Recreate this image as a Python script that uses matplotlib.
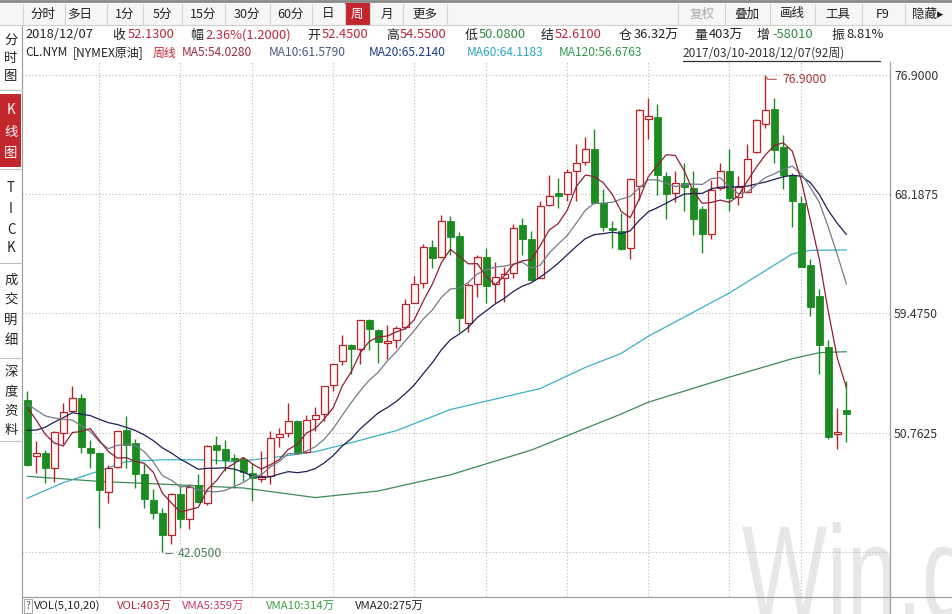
import matplotlib
matplotlib.use('Agg')
import matplotlib.pyplot as plt
import numpy as np
import pandas as pd
from matplotlib.textpath import TextPath
from matplotlib.patches import PathPatch
from matplotlib.font_manager import FontProperties
from matplotlib.transforms import Affine2D

plt.rcParams['font.family'] = ['Noto Sans CJK SC', 'DejaVu Sans']

# weekly CL.NYM candles, 2017/03/10 .. 2018/12/07 (92 weeks)
opens = [53.16, 49.07, 49.29, 48.17, 50.74, 52.32, 53.31, 49.64, 49.24, 46.41,
         48.26, 50.96, 50.03, 47.73, 45.82, 44.89, 43.25, 46.26, 44.45, 46.92,
         45.64, 49.88, 49.56, 48.90, 48.87, 47.85, 47.38, 47.58, 50.41, 50.71,
         51.64, 49.37, 51.74, 52.13, 54.26, 55.99, 57.15, 56.91, 58.98, 58.30,
         57.32, 57.51, 58.45, 60.25, 61.68, 64.32, 63.59, 66.20, 65.15, 58.78,
         61.63, 63.59, 61.60, 62.04, 62.41, 65.96, 64.93, 62.09, 67.38, 68.26,
         68.21, 69.87, 70.56, 71.52, 67.52, 65.72, 65.54, 64.29, 68.82, 73.72,
         73.87, 69.56, 68.29, 69.02, 68.65, 67.11, 65.30, 68.65, 69.92, 67.96,
         68.33, 71.27, 73.35, 74.40, 71.66, 69.58, 67.55, 63.02, 60.75, 57.02,
         50.66, 52.45]
highs = [53.79, 50.12, 49.49, 50.91, 52.94, 54.14, 53.60, 50.22, 49.34, 48.39,
         50.91, 52.01, 50.30, 48.46, 46.63, 45.28, 46.38, 46.87, 46.99, 47.73,
         49.83, 50.49, 50.25, 49.20, 49.00, 48.58, 49.44, 50.91, 51.08, 52.91,
         51.69, 52.06, 52.62, 54.21, 55.80, 57.93, 57.27, 59.03, 59.05, 58.37,
         58.62, 58.54, 60.55, 62.21, 64.56, 64.86, 66.69, 66.57, 65.42, 61.70,
         63.76, 64.25, 63.26, 62.90, 66.01, 66.49, 65.47, 67.67, 69.58, 69.39,
         70.00, 71.88, 72.40, 72.93, 68.60, 66.25, 66.84, 69.39, 74.45, 75.26,
         74.77, 69.80, 69.87, 70.44, 69.87, 67.30, 69.26, 70.49, 71.52, 69.50,
         71.83, 73.72, 76.90, 75.26, 72.49, 69.75, 68.04, 63.44, 61.24, 57.51,
         52.57, 54.55]
lows = [48.34, 47.80, 47.11, 47.16, 49.93, 52.25, 49.27, 48.21, 43.81, 45.60,
        48.21, 48.21, 46.74, 45.28, 44.42, 42.05, 42.63, 43.81, 43.69, 45.64,
        45.47, 48.46, 47.97, 46.74, 47.24, 45.77, 47.18, 47.04, 49.68, 50.41,
        49.20, 49.27, 50.91, 51.64, 53.79, 55.73, 55.07, 55.80, 56.78, 55.88,
        56.17, 56.98, 58.37, 60.21, 61.31, 62.82, 63.51, 63.76, 58.12, 58.12,
        60.69, 60.21, 60.21, 60.33, 62.04, 63.76, 61.85, 62.04, 67.30, 67.18,
        67.67, 67.67, 70.31, 67.48, 65.52, 64.29, 64.12, 63.44, 67.79, 72.25,
        68.16, 66.40, 67.60, 66.93, 65.22, 63.92, 64.91, 68.53, 66.93, 67.43,
        68.29, 71.22, 73.06, 70.49, 68.58, 65.83, 62.90, 59.28, 55.07, 50.30,
        49.56, 50.08]
closes = [48.41, 49.27, 48.21, 50.81, 52.25, 53.31, 49.68, 49.24, 46.55, 48.17,
          50.86, 49.88, 47.77, 45.94, 44.91, 43.25, 46.30, 44.42, 46.82, 45.69,
          49.78, 49.51, 48.78, 48.76, 47.92, 47.43, 47.60, 50.37, 50.66, 51.64,
          49.27, 51.69, 52.06, 54.21, 55.75, 57.15, 56.91, 58.98, 58.37, 57.42,
          57.44, 58.42, 60.16, 61.63, 64.32, 63.51, 66.25, 65.10, 59.11, 61.55,
          63.59, 61.50, 62.12, 62.36, 65.72, 64.93, 61.92, 67.30, 68.04, 68.07,
          69.83, 70.49, 71.52, 67.55, 65.76, 65.59, 64.20, 69.31, 74.35, 73.91,
          69.63, 68.21, 69.02, 68.73, 66.38, 65.30, 68.53, 69.87, 67.92, 68.70,
          70.73, 73.59, 74.33, 71.46, 69.63, 67.67, 62.90, 59.92, 57.15, 50.41,
          50.78, 52.13]
# closes of the 19 weeks before the window (needed for MA5/10/20 at the left edge)
prior_closes = [48.70, 44.07, 43.41, 45.69, 46.06, 51.68, 51.50, 51.90, 53.02, 53.72,
                53.99, 52.37, 52.42, 53.17, 53.83, 53.86, 53.40, 53.99, 53.33]

# long averages
ma60_idx = [0, 4, 8, 11, 15, 20, 23, 28, 32, 36, 41, 47, 57, 62, 66, 69, 78, 85, 87, 91]
ma60_val = [45.97, 47.11, 47.97, 48.65, 48.78, 48.78, 48.63, 49.00, 49.37, 50.03,
            50.91, 52.45, 53.99, 55.53, 56.56, 57.81, 60.97, 63.83, 64.09, 64.12]
ma120_idx = [0, 8, 17, 24, 32, 39, 47, 56, 66, 69, 78, 85, 88, 91]
ma120_val = [47.57, 47.20, 46.94, 46.72, 46.02, 46.50, 47.68, 49.49, 52.13, 52.99,
             54.82, 56.17, 56.61, 56.68]

ytick_vals = [42.05, 50.7625, 59.475, 68.1875, 76.9]
vgrid_idx = [8, 17, 25, 34, 43, 51, 60, 69, 78, 86]

W, H = 952, 614
RED = '#b8283c'
GRN = '#2e8b3e'
UP = '#b8232a'
DN = '#1c8c22'


def fx(x):
    return x / W


def fy(y):
    return 1 - y / H


def main():
    fig = plt.figure(figsize=(W / 100, H / 100), dpi=100)
    fig.patch.set_facecolor('white')

    # watermark (tall, narrow letters)
    tp = TextPath((0, 0), 'Win.d', size=100, prop=FontProperties(family='Liberation Sans'))
    wm = PathPatch(tp, facecolor='#e7e7e7', edgecolor='none', zorder=-5,
                   transform=Affine2D().scale(0.9, 1.31).translate(742, -3))
    fig.add_artist(wm)

    ax = fig.add_axes([fx(22), fy(597), fx(890 - 22), (597 - 61) / H])
    ax.patch.set_alpha(0)
    ax.set_xlim(-0.589, 95.856)
    ax.set_ylim(38.75, 77.93)

    idx = np.arange(len(closes))
    o = np.array(opens); c = np.array(closes)
    h = np.array(highs); l = np.array(lows)
    up = c >= o

    for v in ytick_vals:
        ax.axhline(v, color='#b8b8b8', lw=0.8, ls=(0, (1, 2)), zorder=0)
    for v in vgrid_idx:
        ax.axvline(v, color='#b8b8b8', lw=0.8, ls=(0, (1, 2)), zorder=0)

    # moving averages
    allc = pd.Series(prior_closes + closes)
    n0 = len(prior_closes)
    ma5 = allc.rolling(5).mean().values[n0:]
    ma10 = allc.rolling(10).mean().values[n0:]
    ma20 = allc.rolling(20).mean().values[n0:]
    ax.plot(ma120_idx, ma120_val, color='#3d8a55', lw=0.9, zorder=1)
    ax.plot(ma60_idx, ma60_val, color='#3bb0c4', lw=0.9, zorder=1)
    ax.plot(idx, ma20, color='#1b1f55', lw=0.9, zorder=4)
    ax.plot(idx, ma10, color='#747a8a', lw=0.9, zorder=4)
    ax.plot(idx, ma5, color='#8e2033', lw=0.9, zorder=4)

    # candles
    wcol = np.where(up, UP, DN)
    ax.vlines(idx, l, h, colors=wcol, lw=1.0, zorder=2)
    body_lo = np.minimum(o, c)
    body_h = np.maximum(np.abs(c - o), 0.12)
    ax.bar(idx[up], body_h[up], bottom=body_lo[up], width=0.74,
           facecolor='#fff6f6', edgecolor=UP, lw=0.9, zorder=3)
    ax.bar(idx[~up], body_h[~up], bottom=body_lo[~up], width=0.74,
           facecolor=DN, edgecolor=DN, lw=0.6, zorder=3)

    ih = int(np.argmax(h)); il = int(np.argmin(l))
    ax.annotate('%.4f' % h[ih], xy=(ih, h[ih]), xytext=(12, -3), textcoords='offset points',
                fontsize=8.8, color='#a83a3a', va='center', ha='left',
                arrowprops=dict(arrowstyle='-', color='#a83a3a', lw=0.7,
                                connectionstyle='angle,angleA=0,angleB=-60,rad=0'))
    ax.annotate('%.4f' % l[il], xy=(il, l[il]), xytext=(11, -1), textcoords='offset points',
                fontsize=8.8, color='#4a7f5c', va='center', ha='left',
                arrowprops=dict(arrowstyle='-', color='#4a7f5c', lw=0.7,
                                connectionstyle='angle,angleA=0,angleB=60,rad=0'))

    ax.set_xticks([])
    ax.yaxis.tick_right()
    ax.set_yticks(ytick_vals[1:])
    ax.set_yticklabels(['%.4f' % v for v in ytick_vals[1:]])
    ax.tick_params(axis='y', length=0, pad=3, labelsize=8.8, labelcolor='#333333')
    for s in ax.spines.values():
        s.set_visible(False)

    # frame lines
    ln = dict(color='#a0a0a0', lw=0.9, transform=fig.transFigure)
    fig.add_artist(plt.Line2D([fx(22), fx(22)], [fy(26), fy(614)], **ln))
    fig.add_artist(plt.Line2D([fx(890), fx(890)], [fy(62), fy(614)], **ln))
    fig.add_artist(plt.Line2D([fx(22), fx(952)], [fy(597), fy(597)], **ln))

    # toolbar
    fig.add_artist(plt.Rectangle((0, fy(25)), 1, 25 / H, transform=fig.transFigure,
                                 facecolor='#f6f6f6', edgecolor='none', zorder=0))
    fig.add_artist(plt.Line2D([0, 1], [fy(1), fy(1)], color='#8a8a8a', lw=2, transform=fig.transFigure))
    fig.add_artist(plt.Line2D([0, 1], [fy(25), fy(25)], color='#d0d0d0', lw=0.8, transform=fig.transFigure))
    fig.add_artist(plt.Rectangle((fx(345), fy(25)), fx(25), 22 / H, transform=fig.transFigure,
                                 facecolor='#c1272d', edgecolor='none', zorder=1))
    left_btns = [('分时', 43), ('多日', 80), ('1分', 125), ('5分', 162), ('15分', 203),
                 ('30分', 247), ('60分', 290), ('日', 328), ('周', 357), ('月', 387), ('更多', 425)]
    right_btns = [('复权', 702), ('叠加', 747), ('画线', 792), ('工具', 838), ('F9', 883), ('隐藏▸', 928)]
    for xs in [23, 65, 107, 143, 182, 225, 270, 312, 345, 370, 403, 447,
               678, 725, 770, 815, 862, 905]:
        fig.add_artist(plt.Line2D([fx(xs), fx(xs)], [fy(4), fy(25)], color='#d2d2d2', lw=0.8,
                                  transform=fig.transFigure))
    for s, x in left_btns + right_btns:
        col = '#222222'
        if s == '周':
            col = 'white'
        if s == '复权':
            col = '#aaaaaa'
        fig.text(fx(x), fy(14), s, fontsize=9, color=col, ha='center', va='center',
                 family=['Noto Sans CJK SC', 'DejaVu Sans'], zorder=5)

    # quote line
    info = [(25, '2018/12/07', '#222222'), (112, '收', '#222222'), (128, '52.1300', RED),
            (190, '幅', '#222222'), (205, '2.36%(1.2000)', RED), (307, '开', '#222222'),
            (322, '52.4500', RED), (386, '高', '#222222'), (400, '54.5500', RED),
            (465, '低', '#222222'), (479, '50.0800', GRN), (541, '结', '#222222'),
            (555, '52.6100', RED), (619, '仓', '#222222'), (634, '36.32万', '#222222'),
            (694, '量', '#222222'), (709, '403万', '#222222'), (757, '增', '#222222'),
            (772, '-58010', GRN), (831, '振', '#222222'), (846, '8.81%', '#222222')]
    for x, s, col in info:
        fig.text(fx(x), fy(35), s, fontsize=9.3, color=col, ha='left', va='center')

    # MA legend line
    legend = [(25, 'CL.NYM', '#222222'), (73, '[NYMEX原油]', '#222222'), (153, '周线', '#c1272d'),
              (182, 'MA5:54.0280', '#9a2a45'), (269, 'MA10:61.5790', '#4a5a80'),
              (369, 'MA20:65.2140', '#1d3a8a'), (467, 'MA60:64.1183', '#2aa5c2'),
              (559, 'MA120:56.6763', '#2f9a4a')]
    for x, s, col in legend:
        fig.text(fx(x), fy(53), s, fontsize=8.6, color=col, ha='left', va='center')
    fig.text(fx(683), fy(53), '2017/03/10-2018/12/07(92周)', fontsize=8.6, color='#333333',
             ha='left', va='center')
    fig.add_artist(plt.Line2D([fx(683), fx(880)], [fy(61), fy(61)], color='#333333', lw=0.9,
                              transform=fig.transFigure))

    # side tabs
    fig.add_artist(plt.Rectangle((0, fy(167)), fx(21), 73 / H, transform=fig.transFigure,
                                 facecolor='#c1272d', edgecolor='none'))
    tabs = [('分', 40), ('时', 58), ('图', 76), ('K', 110), ('线', 132), ('图', 153),
            ('T', 188), ('I', 209), ('C', 230), ('K', 248), ('成', 280), ('交', 300),
            ('明', 320), ('细', 340), ('深', 372), ('度', 392), ('资', 411), ('料', 430)]
    for s, y in tabs:
        col = 'white' if 94 < y < 166 else '#222222'
        fig.text(fx(11), fy(y), s, fontsize=9.6, color=col, ha='center', va='center')
    for ys in [90, 169, 263, 358, 441]:
        fig.add_artist(plt.Line2D([0, fx(22)], [fy(ys), fy(ys)], color='#c0c0c0', lw=0.8,
                                  transform=fig.transFigure))

    # volume line
    fig.text(fx(28), fy(606), '?', fontsize=7.5, color='#555555', ha='center', va='center',
             bbox=dict(boxstyle='square,pad=0.15', facecolor='white', edgecolor='#999999', lw=0.6))
    vol = [(34, 'VOL(5,10,20)', '#222222'), (117, 'VOL:403万', '#b0283a'),
           (182, 'VMA5:359万', '#c23a6a'), (266, 'VMA10:314万', '#3aa040'),
           (355, 'VMA20:275万', '#222222')]
    for x, s, col in vol:
        fig.text(fx(x), fy(606), s, fontsize=8.2, color=col, ha='left', va='center')

    fig.savefig('out.png', dpi=100)


if __name__ == '__main__':
    main()
